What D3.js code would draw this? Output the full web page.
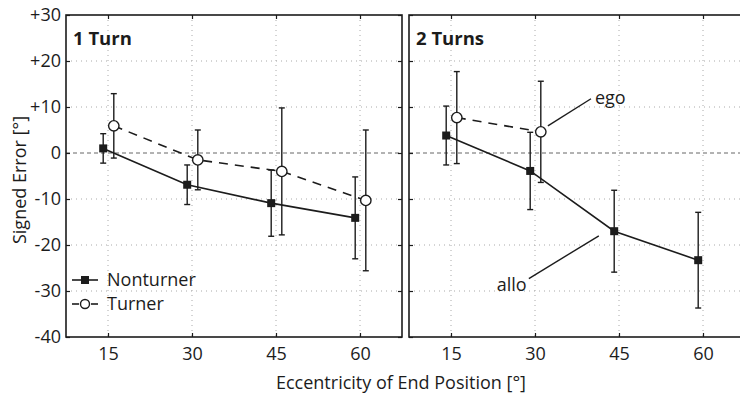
<!DOCTYPE html>
<html>
<head>
<meta charset="utf-8">
<script src="https://cdn.jsdelivr.net/npm/d3@7"></script>
<style>
  body { margin: 0; background: #fff; }
  svg { display: block; font-family: "Open Sans", "Noto Sans", sans-serif; }
</style>
</head>
<body>
<svg id="chart"></svg>
<script>
// values
const eccentricity = [15, 30, 45, 60];
const yTickValues = [30, 20, 10, 0, -10, -20, -30, -40];
const yTickLabels = ["+30", "+20", "+10", "0", "-10", "-20", "-30", "-40"];

const turn1Nonturner = [1.0, -6.9, -10.9, -14.1];
const turn1NonturnerErr = [3.2, 4.3, 7.2, 8.9];
const turn1Turner = [5.9, -1.5, -4.0, -10.3];
const turn1TurnerErr = [7.0, 6.5, 13.8, 15.3];

const turn2Nonturner = [3.8, -3.9, -17.0, -23.3];
const turn2NonturnerErr = [6.4, 8.4, 8.9, 10.4];
const turn2Turner = [7.7, 4.6];
const turn2TurnerErr = [10.0, 11.0];

const panelTitles = ["1 Turn", "2 Turns"];
const legendLabels = ["Nonturner", "Turner"];
// annotations in data units: from point, to point, label
const annotations = [
  { text: "ego", x1: 32.3, y1: 5.9, x2: 40.0, y2: 11.8, tx: 40.7, ty: 10.7, anchor: "start" },
  { text: "allo", x1: 28.9, y1: -27.3, x2: 41.4, y2: -18.0, tx: 28.5, ty: -29.9, anchor: "end" }
];

const W = 740, H = 394;
const ink = "#1c1c1c";
const fs = 18;
const svg = d3.select("#chart").attr("width", W).attr("height", H);

const y = d3.scaleLinear().domain([-40, 30]).range([337, 15]);

const panels = [
  { range: [66, 402], title: panelTitles[0],
    non: turn1Nonturner, nonErr: turn1NonturnerErr, tur: turn1Turner, turErr: turn1TurnerErr, legend: true, yLabels: true },
  { range: [409, 745], title: panelTitles[1],
    non: turn2Nonturner, nonErr: turn2NonturnerErr, tur: turn2Turner, turErr: turn2TurnerErr, legend: false, yLabels: false }
];

const dodgeNon = -4.8, dodgeTur = 5.8;

panels.forEach((p, pi) => {
  const x = d3.scaleLinear().domain([7.5, 67.5]).range(p.range);
  const g = svg.append("g");
  const [x0, x1] = p.range;
  const [yb, yt] = y.range();

  // grid
  g.selectAll(".hgrid").data(yTickValues.filter(v => v > -40 && v < 30)).join("line")
    .attr("x1", x0).attr("x2", x1).attr("y1", d => y(d)).attr("y2", d => y(d))
    .attr("stroke", d => d === 0 ? "#666" : "#aaa")
    .attr("stroke-width", 1)
    .attr("stroke-dasharray", d => d === 0 ? "4,3" : "1,4");
  g.selectAll(".vgrid").data(eccentricity).join("line")
    .attr("x1", d => x(d)).attr("x2", d => x(d)).attr("y1", yt).attr("y2", yb)
    .attr("stroke", "#aaa").attr("stroke-width", 1).attr("stroke-dasharray", "1,4");

  // inward ticks
  const bottomAx = g.append("g").attr("transform", `translate(0,${yb})`)
    .call(d3.axisBottom(x).tickValues(eccentricity).tickSizeInner(-4).tickSizeOuter(0).tickPadding(10));
  const topAx = g.append("g").attr("transform", `translate(0,${yt})`)
    .call(d3.axisTop(x).tickValues(eccentricity).tickSizeInner(-4).tickSizeOuter(0).tickFormat(""));
  const leftAx = g.append("g").attr("transform", `translate(${x0},0)`)
    .call(d3.axisLeft(y).tickValues(yTickValues).tickSizeInner(-4).tickSizeOuter(0).tickPadding(5)
      .tickFormat((d, i) => p.yLabels ? yTickLabels[i] : ""));
  const rightAx = g.append("g").attr("transform", `translate(${x1},0)`)
    .call(d3.axisRight(y).tickValues(yTickValues).tickSizeInner(-4).tickSizeOuter(0).tickFormat(""));
  [bottomAx, topAx, leftAx, rightAx].forEach(a => {
    a.select(".domain").remove();
    a.selectAll("line").attr("stroke", ink).attr("stroke-width", 1.2);
    a.selectAll("text").attr("fill", ink).attr("font-size", fs).attr("font-family", "Open Sans");
  });

  // frame
  g.append("rect").attr("x", x0).attr("y", yt).attr("width", x1 - x0).attr("height", yb - yt)
    .attr("fill", "none").attr("stroke", ink).attr("stroke-width", 1.6);

  g.append("text").attr("x", x0 + 7).attr("y", 45).attr("font-size", 18.5).attr("font-weight", "bold")
    .attr("fill", ink).text(p.title);

  const nonPts = p.non.map((v, i) => ({ cx: x(eccentricity[i]) + dodgeNon, v, e: p.nonErr[i] }));
  const turPts = p.tur.map((v, i) => ({ cx: x(eccentricity[i]) + dodgeTur, v, e: p.turErr[i] }));

  const drawErr = (pts) => {
    const eg = g.append("g").attr("stroke", ink).attr("stroke-width", 1.4);
    eg.selectAll(".stem").data(pts).join("line")
      .attr("x1", d => d.cx).attr("x2", d => d.cx).attr("y1", d => y(d.v + d.e)).attr("y2", d => y(d.v - d.e));
    eg.selectAll(".capT").data(pts).join("line")
      .attr("x1", d => d.cx - 3).attr("x2", d => d.cx + 3).attr("y1", d => y(d.v + d.e)).attr("y2", d => y(d.v + d.e));
    eg.selectAll(".capB").data(pts).join("line")
      .attr("x1", d => d.cx - 3).attr("x2", d => d.cx + 3).attr("y1", d => y(d.v - d.e)).attr("y2", d => y(d.v - d.e));
  };
  drawErr(nonPts);
  drawErr(turPts);

  const line = d3.line().x(d => d.cx).y(d => y(d.v));
  g.append("path").datum(nonPts).attr("d", line).attr("fill", "none").attr("stroke", ink).attr("stroke-width", 1.6);
  g.append("path").datum(turPts).attr("d", line).attr("fill", "none").attr("stroke", ink).attr("stroke-width", 1.6)
    .attr("stroke-dasharray", "9,7");

  g.selectAll(".sq").data(nonPts).join("rect")
    .attr("x", d => d.cx - 4).attr("y", d => y(d.v) - 4).attr("width", 8).attr("height", 8).attr("fill", ink);
  g.selectAll(".ci").data(turPts).join("circle")
    .attr("cx", d => d.cx).attr("cy", d => y(d.v)).attr("r", 5.2)
    .attr("fill", "#fff").attr("stroke", ink).attr("stroke-width", 1.4);

  if (p.legend) {
    const lg = g.append("g").attr("transform", `translate(${x0 + 6},0)`);
    lg.append("line").attr("x1", 0).attr("x2", 26).attr("y1", 280).attr("y2", 280).attr("stroke", ink).attr("stroke-width", 1.6);
    lg.append("rect").attr("x", 9).attr("y", 276).attr("width", 8).attr("height", 8).attr("fill", ink);
    lg.append("text").attr("x", 35).attr("y", 286).attr("font-size", fs).attr("fill", ink).text(legendLabels[0]);
    lg.append("line").attr("x1", 0).attr("x2", 7).attr("y1", 304).attr("y2", 304).attr("stroke", ink).attr("stroke-width", 1.6);
    lg.append("line").attr("x1", 19).attr("x2", 26).attr("y1", 304).attr("y2", 304).attr("stroke", ink).attr("stroke-width", 1.6);
    lg.append("circle").attr("cx", 13).attr("cy", 304).attr("r", 4.5).attr("fill", "#fff").attr("stroke", ink).attr("stroke-width", 1.4);
    lg.append("text").attr("x", 35).attr("y", 310).attr("font-size", fs).attr("fill", ink).text(legendLabels[1]);
  }

  if (pi === 1) {
    annotations.forEach(a => {
      g.append("line").attr("x1", x(a.x1)).attr("y1", y(a.y1)).attr("x2", x(a.x2)).attr("y2", y(a.y2))
        .attr("stroke", ink).attr("stroke-width", 1.4);
      g.append("text").attr("x", x(a.tx)).attr("y", y(a.ty)).attr("text-anchor", a.anchor)
        .attr("font-size", fs).attr("fill", ink).text(a.text);
    });
  }
});

svg.append("text").attr("x", 401).attr("y", 389).attr("text-anchor", "middle")
  .attr("font-size", fs).attr("fill", ink).text("Eccentricity of End Position [°]");
svg.append("text").attr("transform", "translate(26,180) rotate(-90)").attr("text-anchor", "middle")
  .attr("font-size", fs).attr("fill", ink).text("Signed Error [°]");
</script>
</body>
</html>
